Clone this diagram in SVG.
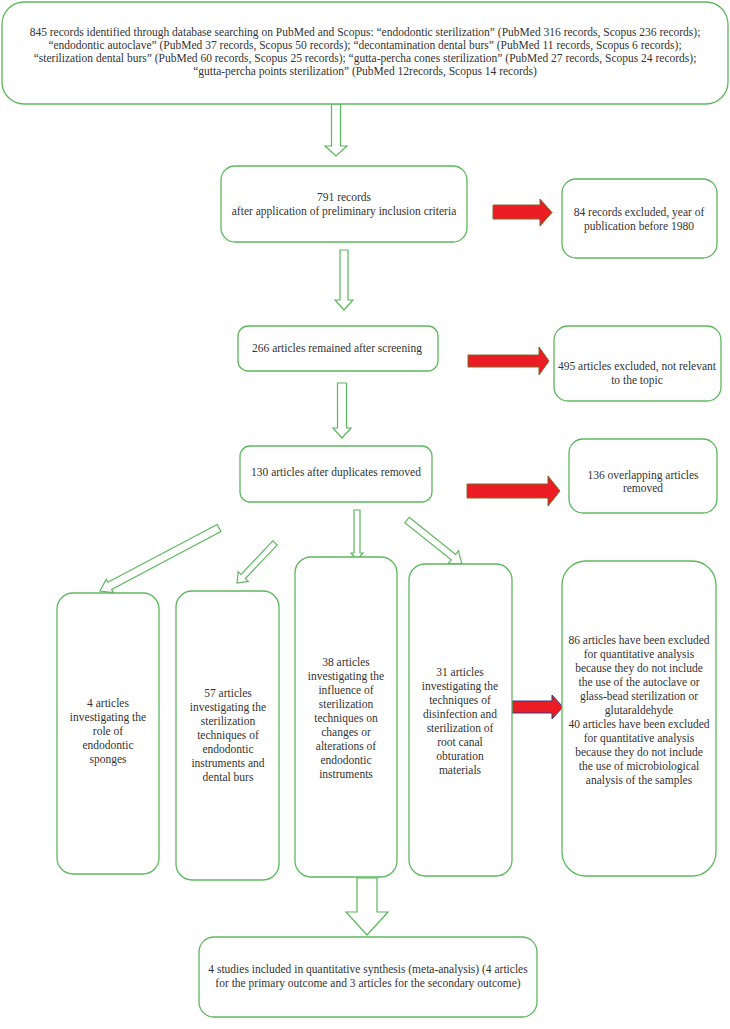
<svg xmlns="http://www.w3.org/2000/svg" width="730" height="1029" viewBox="0 0 730 1029">
<style>
.box{fill:#ffffff;stroke:#5cb85c;stroke-width:1.3}
.harrow{fill:#ffffff;stroke:#5cb85c;stroke-width:1.2;stroke-linejoin:miter}
.red{fill:#ec1c24;stroke:#7a6a2a;stroke-width:1}
.redb{fill:#ec1c24;stroke:#2f3d8f;stroke-width:1}
text{font-family:"Liberation Serif","Times New Roman",serif;font-size:11.5px;fill:#333333;text-anchor:middle}
</style>
<rect x="0" y="0" width="730" height="1029" fill="#ffffff"/>
<g id="connectors">
<polygon class="harrow" points="331.5,104 340.5,104 340.5,146 347,146 336,156 325,146 331.5,146"/>
<polygon class="red" points="493,205 540,205 540,199 552,212.5 540,226 540,219 493,219"/>
<polygon class="harrow" points="340,250 348,250 348,300 353,300 344,310 335,300 340,300"/>
<polygon class="red" points="468,355 539,355 539,347 549,361 539,375 539,367 468,367"/>
<polygon class="harrow" points="337.5,383 346.5,383 346.5,428 351,428 342,438 333,428 337.5,428"/>
<polygon class="red" points="467,484 548,484 548,476 560,491 548,506 548,498 467,498"/>
<polygon class="harrow" points="217.13,524.46 107.85,582.31 106.21,579.22 100,591 113.23,592.48 111.59,589.39 220.87,531.54"/>
<polygon class="harrow" points="272.83,540.93 241.03,574.41 238.13,571.66 237,583 248.28,581.29 245.38,578.54 277.18,545.07"/>
<polygon class="harrow" points="354,510 360,510 360,553 363,553 357,560 351,553 354,553"/>
<polygon class="harrow" points="409.19,517.27 455.60,554.40 458.41,550.88 462,564 448.41,563.38 451.22,559.86 404.81,522.73"/>
<polygon class="redb" points="512,701 552,701 552,695 563,707 552,719 552,713 512,713"/>
<polygon class="harrow" points="357,878 377,878 377,912 388,912 367,935 346,912 357,912"/>
</g>
<g id="n-search">
<rect class="box" x="2" y="2" width="726" height="102" rx="22"/>
<text x="365" y="36">845 records identified through database searching on PubMed and Scopus: “endodontic sterilization” (PubMed 316 records, Scopus 236 records);</text>
<text x="365" y="49">“endodontic autoclave” (PubMed 37 records, Scopus 50 records); “decontamination dental burs” (PubMed 11 records, Scopus 6 records);</text>
<text x="365" y="62">“sterilization dental burs” (PubMed 60 records, Scopus 25 records); “gutta-percha cones sterilization” (PubMed 27 records, Scopus 24 records);</text>
<text x="365" y="75">“gutta-percha points sterilization” (PubMed 12records, Scopus 14 records)</text>
</g>
<g id="n-791">
<rect class="box" x="221" y="166" width="246" height="76" rx="14"/>
<text x="344" y="201">791 records</text>
<text x="344" y="215">after application of preliminary inclusion criteria</text>
</g>
<g id="n-84">
<rect class="box" x="562" y="179" width="155" height="79" rx="14"/>
<text x="639" y="216">84 records excluded, year of</text>
<text x="639" y="230">publication before 1980</text>
</g>
<g id="n-266">
<rect class="box" x="238" y="326" width="200" height="45" rx="10"/>
<text x="337" y="352">266 articles remained after screening</text>
</g>
<g id="n-495">
<rect class="box" x="554" y="326" width="167" height="75" rx="14"/>
<text x="637" y="370">495 articles excluded, not relevant</text>
<text x="637" y="384">to the topic</text>
</g>
<g id="n-130">
<rect class="box" x="240" y="446" width="192" height="56" rx="10"/>
<text x="336" y="476">130 articles after duplicates removed</text>
</g>
<g id="n-136">
<rect class="box" x="569" y="439" width="148" height="74" rx="14"/>
<text x="643" y="479">136 overlapping articles</text>
<text x="643" y="492">removed</text>
</g>
<g id="n-sponges">
<rect class="box" x="57" y="593" width="102" height="281" rx="16"/>
<text x="108" y="707">4 articles</text>
<text x="108" y="721">investigating the</text>
<text x="108" y="735">role of</text>
<text x="108" y="749">endodontic</text>
<text x="108" y="763">sponges</text>
</g>
<g id="n-burs">
<rect class="box" x="176" y="591" width="103" height="289" rx="16"/>
<text x="228" y="697">57 articles</text>
<text x="228" y="711">investigating the</text>
<text x="228" y="725">sterilization</text>
<text x="228" y="739">techniques of</text>
<text x="228" y="753">endodontic</text>
<text x="228" y="767">instruments and</text>
<text x="228" y="781">dental burs</text>
</g>
<g id="n-influence">
<rect class="box" x="295" y="557" width="102" height="320" rx="16"/>
<text x="346" y="666">38 articles</text>
<text x="346" y="680">investigating the</text>
<text x="346" y="694">influence of</text>
<text x="346" y="708">sterilization</text>
<text x="346" y="722">techniques on</text>
<text x="346" y="736">changes or</text>
<text x="346" y="750">alterations of</text>
<text x="346" y="764">endodontic</text>
<text x="346" y="778">instruments</text>
</g>
<g id="n-obturation">
<rect class="box" x="409" y="564" width="103" height="312" rx="16"/>
<text x="460" y="676">31 articles</text>
<text x="460" y="690">investigating the</text>
<text x="460" y="704">techniques of</text>
<text x="460" y="718">disinfection and</text>
<text x="460" y="732">sterilization of</text>
<text x="460" y="746">root canal</text>
<text x="460" y="760">obturation</text>
<text x="460" y="774">materials</text>
</g>
<g id="n-excluded">
<rect class="box" x="562" y="561" width="154" height="315" rx="24"/>
<text x="639" y="644">86 articles have been excluded</text>
<text x="639" y="658">for quantitative analysis</text>
<text x="639" y="672">because they do not include</text>
<text x="639" y="686">the use of the autoclave or</text>
<text x="639" y="700">glass-bead sterilization or</text>
<text x="639" y="714">glutaraldehyde</text>
<text x="639" y="728">40 articles have been excluded</text>
<text x="639" y="742">for quantitative analysis</text>
<text x="639" y="756">because they do not include</text>
<text x="639" y="770">the use of microbiological</text>
<text x="639" y="784">analysis of the samples</text>
</g>
<g id="n-final">
<rect class="box" x="199" y="937" width="338" height="80" rx="15"/>
<text x="368" y="973">4 studies included in quantitative synthesis (meta-analysis) (4 articles</text>
<text x="368" y="987">for the primary outcome and 3 articles for the secondary outcome)</text>
</g>
</svg>
